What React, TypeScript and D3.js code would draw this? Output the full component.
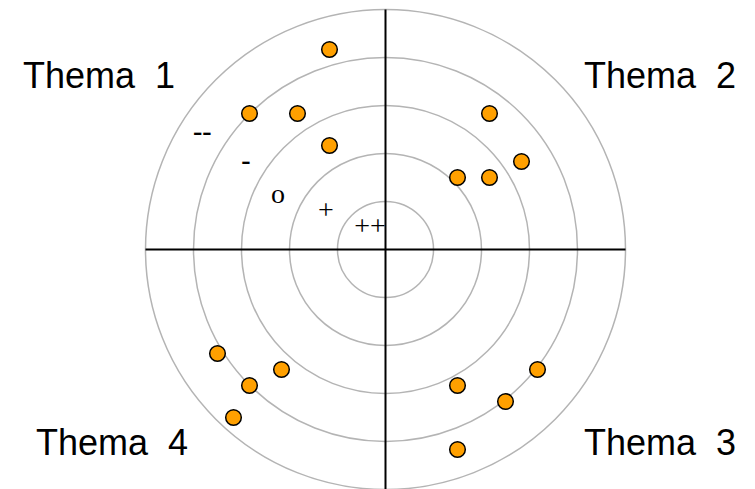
import React from 'react'
import * as d3 from 'd3'

// rating rings from inner (++) to outer (--)
const rings = [1, 2, 3, 4, 5]
const ringLabels = ['++', '+', 'o', '-', '--']
const themes = ['Thema  1', 'Thema  2', 'Thema  3', 'Thema  4']

// point positions in grid units (x right, y up), one list per theme
const thema1 = [
  { x: -3.5, y: 12.5 },
  { x: -8.5, y: 8.5 },
  { x: -5.5, y: 8.5 },
  { x: -3.5, y: 6.5 },
]
const thema2 = [
  { x: 6.5, y: 8.5 },
  { x: 8.5, y: 5.5 },
  { x: 4.5, y: 4.5 },
  { x: 6.5, y: 4.5 },
]
const thema3 = [
  { x: 4.5, y: -8.5 },
  { x: 9.5, y: -7.5 },
  { x: 7.5, y: -9.5 },
  { x: 4.5, y: -12.5 },
]
const thema4 = [
  { x: -10.5, y: -6.5 },
  { x: -8.5, y: -8.5 },
  { x: -6.5, y: -7.5 },
  { x: -9.5, y: -10.5 },
]

const width = 755
const height = 489
const cx = 385.5
const cy = 249.5
const outerR = 240

const xScale = d3.scaleLinear().domain([-15, 15]).range([cx - outerR, cx + outerR])
const yScale = d3.scaleLinear().domain([-15, 15]).range([cy + outerR, cy - outerR])
const rScale = d3.scaleLinear().domain([0, 5]).range([0, outerR])

// where the rating labels sit (grid units, baseline)
const ringLabelPos = [
  { x: -0.97, y: 0.89, bold: false },
  { x: -3.72, y: 1.89, bold: false },
  { x: -6.72, y: 2.93, bold: false },
  { x: -8.73, y: 5.06, bold: true },
  { x: -11.45, y: 6.87, bold: true },
]

const themeLabelPos = [
  { x: 23, y: 88, anchor: 'start' },
  { x: 736, y: 88, anchor: 'end' },
  { x: 736, y: 455, anchor: 'end' },
  { x: 36, y: 455, anchor: 'start' },
]

const allPoints = [...thema1, ...thema2, ...thema3, ...thema4]

export default function App() {
  return (
    <svg
      width={width}
      height={height}
      style={{ position: 'absolute', left: 0, top: 0, background: '#fff' }}
    >
      {rings.map(r => (
        <circle
          key={r}
          cx={cx}
          cy={cy}
          r={rScale(r)}
          fill="none"
          stroke="#b4b4b4"
          strokeWidth={1.5}
        />
      ))}
      <line x1={xScale(-15)} x2={xScale(15)} y1={cy} y2={cy} stroke="#000" strokeWidth={2} />
      <line x1={cx} x2={cx} y1={yScale(15)} y2={yScale(-15)} stroke="#000" strokeWidth={2} />

      {ringLabels.map((t, i) => (
        <text
          key={t}
          x={xScale(ringLabelPos[i].x)}
          y={yScale(ringLabelPos[i].y)}
          textAnchor="middle"
          fontFamily="Liberation Serif, Times New Roman, serif"
          fontWeight={ringLabelPos[i].bold ? 'bold' : 'normal'}
          fontSize={28}
        >
          {t}
        </text>
      ))}

      {allPoints.map((p, i) => (
        <circle
          key={i}
          cx={xScale(p.x)}
          cy={yScale(p.y)}
          r={7.8}
          fill="#ffa000"
          stroke="#000"
          strokeWidth={1.5}
        />
      ))}

      {themes.map((t, i) => (
        <text
          key={t}
          x={themeLabelPos[i].x}
          y={themeLabelPos[i].y}
          textAnchor={themeLabelPos[i].anchor as any}
          fontFamily="Liberation Sans, Arial, sans-serif"
          fontSize={36}
          style={{ whiteSpace: 'pre' }}
        >
          {t}
        </text>
      ))}
    </svg>
  )
}
